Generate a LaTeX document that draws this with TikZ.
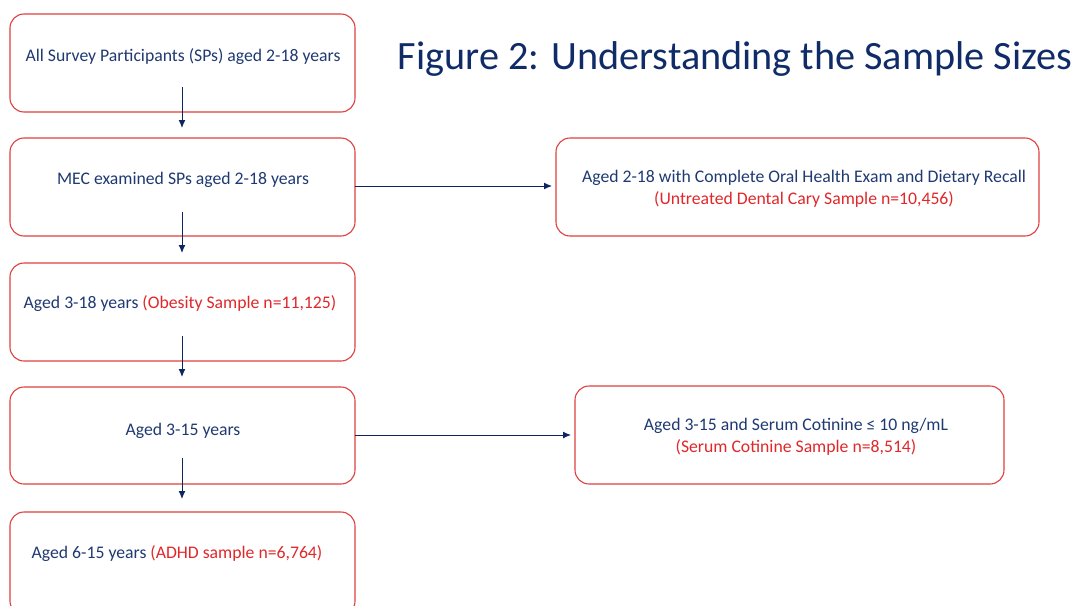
\documentclass[tikz,border=0pt]{standalone}
\usepackage{fontspec}
\setmainfont{Carlito}
\usetikzlibrary{arrows.meta,calc}
\definecolor{navy}{HTML}{1F3A72}
\definecolor{titlenavy}{HTML}{102C68}
\definecolor{redtxt}{HTML}{E0282A}
\definecolor{redline}{HTML}{E04040}
\definecolor{arrowblue}{HTML}{0E2660}
\definecolor{lineblue}{HTML}{2E4C96}
\tikzset{
  x=1pt,y=-1pt,
  box/.style={draw=redline,line width=1.1pt,rounded corners=14pt,fill=white},
  txt/.style={text=navy,font=\fontsize{17.7}{22}\selectfont,inner sep=0pt,align=center},
  arr/.style={draw=arrowblue,line width=1pt,-{Latex[length=8pt,width=7pt]}},
  harr/.style={draw=lineblue,line width=1pt,-{Latex[length=8pt,width=7pt]},arrowblue}
}
\newcommand{\rd}[1]{\textcolor{redtxt}{#1}}
\begin{document}
\begin{tikzpicture}
\useasboundingbox (0,0) rectangle (1075,605);
\clip (0,0) rectangle (1075,605);
\fill[white] (0,0) rectangle (1075,605);
% boxes
\draw[box] (10,14) rectangle (355,112) node[midway,inner sep=0pt] (b1) {};
\draw[box] (10,138) rectangle (355,236) node[midway,inner sep=0pt] (b2) {};
\draw[box] (10,263) rectangle (355,361) node[midway,inner sep=0pt] (b3) {};
\draw[box] (10,387) rectangle (355,484) node[midway,inner sep=0pt] (b4) {};
\draw[box] (10,512) rectangle (355,615) node[midway,inner sep=0pt] (b5) {};
\draw[box] (556,138) rectangle (1039,236) node[midway,inner sep=0pt] (ra) {};
\draw[box] (575,386) rectangle (1004,484) node[midway,inner sep=0pt] (rb) {};
% anchor coordinates
\coordinate (b1s) at (182,87);
\coordinate (b2n) at (182,128);
\coordinate (b2s) at (182,212);
\coordinate (b3n) at (182,253);
\coordinate (b3s) at (182,336);
\coordinate (b4n) at (182,377);
\coordinate (b4s) at (182,458);
\coordinate (b5n) at (182,499);
\coordinate (b2e) at (355,186);
\coordinate (rae) at (552,186);
\coordinate (b4e) at (355,435);
\coordinate (rbe) at (571,435);
% arrows
\draw[arr] (b1s) -- (b2n);
\draw[arr] (b2s) -- (b3n);
\draw[arr] (b3s) -- (b4n);
\draw[arr] (b4s) -- (b5n);
\draw[harr] (b2e) -- (rae);
\draw[harr] (b4e) -- (rbe);
% texts
\node[txt] (t1) at (183,57) {All Survey Participants (SPs) aged 2-18 years};
\node[txt] (t2) at (183,180) {MEC examined SPs aged 2-18 years};
\node[txt] (t3) at (180,304) {Aged 3-18 years \rd{(Obesity Sample n=11,125)}};
\node[txt] (t4) at (183,431) {Aged 3-15 years};
\node[txt] (t5) at (177,554) {Aged 6-15 years \rd{(ADHD sample n=6,764)}};
\node[txt] (ta) at (804,189) {Aged 2-18 with Complete Oral Health Exam and Dietary Recall\\\rd{(Untreated Dental Cary Sample n=10,456)}};
\node[txt] (tb) at (796,437) {Aged 3-15 and Serum Cotinine ≤ 10 ng/mL\\\rd{(Serum Cotinine Sample n=8,514)}};
\node[text=titlenavy,font=\fontsize{40.2}{44}\selectfont,inner sep=0pt] (title) at (735,59) {Figure 2: Understanding the Sample Sizes};
\end{tikzpicture}
\end{document}
